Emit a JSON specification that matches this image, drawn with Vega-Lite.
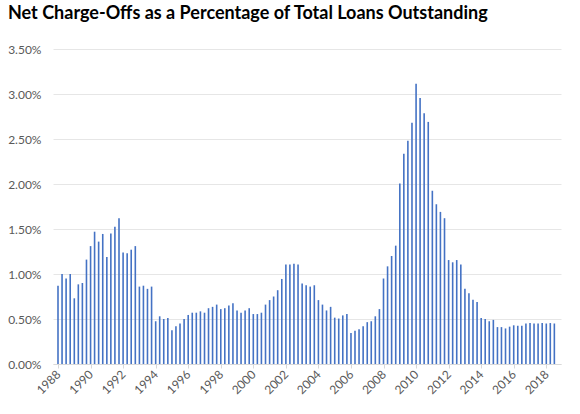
{
  "$schema": "https://vega.github.io/schema/vega-lite/v6.json",
  "width": 508,
  "height": 315,
  "autosize": {"type": "none"},
  "padding": {"left": 53, "top": 49, "right": 19, "bottom": 50},
  "background": "white",
  "config": {
    "font": "Lato",
    "view": {"stroke": null}
  },
  "title": {
    "text": "Net Charge-Offs as a Percentage of Total Loans Outstanding",
    "anchor": "start",
    "frame": "group",
    "dx": -45,
    "offset": 20,
    "fontSize": 18,
    "fontWeight": "bold",
    "color": "#000000",
    "font": "Lato"
  },
  "data": {
    "values": [
      {"q": "1988-01-01", "v": 0.87}, {"q": "1988-04-01", "v": 1.00}, {"q": "1988-07-01", "v": 0.95}, {"q": "1988-10-01", "v": 1.00},
      {"q": "1989-01-01", "v": 0.73}, {"q": "1989-04-01", "v": 0.885}, {"q": "1989-07-01", "v": 0.90}, {"q": "1989-10-01", "v": 1.16},
      {"q": "1990-01-01", "v": 1.31}, {"q": "1990-04-01", "v": 1.47}, {"q": "1990-07-01", "v": 1.36}, {"q": "1990-10-01", "v": 1.445},
      {"q": "1991-01-01", "v": 1.19}, {"q": "1991-04-01", "v": 1.45}, {"q": "1991-07-01", "v": 1.525}, {"q": "1991-10-01", "v": 1.62},
      {"q": "1992-01-01", "v": 1.24}, {"q": "1992-04-01", "v": 1.23}, {"q": "1992-07-01", "v": 1.27}, {"q": "1992-10-01", "v": 1.31},
      {"q": "1993-01-01", "v": 0.86}, {"q": "1993-04-01", "v": 0.87}, {"q": "1993-07-01", "v": 0.835}, {"q": "1993-10-01", "v": 0.86},
      {"q": "1994-01-01", "v": 0.475}, {"q": "1994-04-01", "v": 0.53}, {"q": "1994-07-01", "v": 0.50}, {"q": "1994-10-01", "v": 0.51},
      {"q": "1995-01-01", "v": 0.375}, {"q": "1995-04-01", "v": 0.42}, {"q": "1995-07-01", "v": 0.45}, {"q": "1995-10-01", "v": 0.50},
      {"q": "1996-01-01", "v": 0.545}, {"q": "1996-04-01", "v": 0.57}, {"q": "1996-07-01", "v": 0.57}, {"q": "1996-10-01", "v": 0.585},
      {"q": "1997-01-01", "v": 0.57}, {"q": "1997-04-01", "v": 0.62}, {"q": "1997-07-01", "v": 0.635}, {"q": "1997-10-01", "v": 0.66},
      {"q": "1998-01-01", "v": 0.61}, {"q": "1998-04-01", "v": 0.62}, {"q": "1998-07-01", "v": 0.65}, {"q": "1998-10-01", "v": 0.675},
      {"q": "1999-01-01", "v": 0.595}, {"q": "1999-04-01", "v": 0.57}, {"q": "1999-07-01", "v": 0.595}, {"q": "1999-10-01", "v": 0.62},
      {"q": "2000-01-01", "v": 0.555}, {"q": "2000-04-01", "v": 0.555}, {"q": "2000-07-01", "v": 0.57}, {"q": "2000-10-01", "v": 0.66},
      {"q": "2001-01-01", "v": 0.71}, {"q": "2001-04-01", "v": 0.75}, {"q": "2001-07-01", "v": 0.82}, {"q": "2001-10-01", "v": 0.945},
      {"q": "2002-01-01", "v": 1.105}, {"q": "2002-04-01", "v": 1.105}, {"q": "2002-07-01", "v": 1.115}, {"q": "2002-10-01", "v": 1.105},
      {"q": "2003-01-01", "v": 0.895}, {"q": "2003-04-01", "v": 0.875}, {"q": "2003-07-01", "v": 0.86}, {"q": "2003-10-01", "v": 0.875},
      {"q": "2004-01-01", "v": 0.71}, {"q": "2004-04-01", "v": 0.66}, {"q": "2004-07-01", "v": 0.595}, {"q": "2004-10-01", "v": 0.635},
      {"q": "2005-01-01", "v": 0.515}, {"q": "2005-04-01", "v": 0.505}, {"q": "2005-07-01", "v": 0.54}, {"q": "2005-10-01", "v": 0.555},
      {"q": "2006-01-01", "v": 0.345}, {"q": "2006-04-01", "v": 0.37}, {"q": "2006-07-01", "v": 0.385}, {"q": "2006-10-01", "v": 0.42},
      {"q": "2007-01-01", "v": 0.465}, {"q": "2007-04-01", "v": 0.475}, {"q": "2007-07-01", "v": 0.53}, {"q": "2007-10-01", "v": 0.61},
      {"q": "2008-01-01", "v": 0.95}, {"q": "2008-04-01", "v": 1.085}, {"q": "2008-07-01", "v": 1.20}, {"q": "2008-10-01", "v": 1.315},
      {"q": "2009-01-01", "v": 2.005}, {"q": "2009-04-01", "v": 2.335}, {"q": "2009-07-01", "v": 2.48}, {"q": "2009-10-01", "v": 2.68},
      {"q": "2010-01-01", "v": 3.115}, {"q": "2010-04-01", "v": 2.955}, {"q": "2010-07-01", "v": 2.785}, {"q": "2010-10-01", "v": 2.69},
      {"q": "2011-01-01", "v": 1.925}, {"q": "2011-04-01", "v": 1.775}, {"q": "2011-07-01", "v": 1.69}, {"q": "2011-10-01", "v": 1.62},
      {"q": "2012-01-01", "v": 1.155}, {"q": "2012-04-01", "v": 1.13}, {"q": "2012-07-01", "v": 1.155}, {"q": "2012-10-01", "v": 1.105},
      {"q": "2013-01-01", "v": 0.835}, {"q": "2013-04-01", "v": 0.785}, {"q": "2013-07-01", "v": 0.715}, {"q": "2013-10-01", "v": 0.69},
      {"q": "2014-01-01", "v": 0.51}, {"q": "2014-04-01", "v": 0.50}, {"q": "2014-07-01", "v": 0.475}, {"q": "2014-10-01", "v": 0.49},
      {"q": "2015-01-01", "v": 0.41}, {"q": "2015-04-01", "v": 0.41}, {"q": "2015-07-01", "v": 0.395}, {"q": "2015-10-01", "v": 0.415},
      {"q": "2016-01-01", "v": 0.43}, {"q": "2016-04-01", "v": 0.425}, {"q": "2016-07-01", "v": 0.425}, {"q": "2016-10-01", "v": 0.45},
      {"q": "2017-01-01", "v": 0.455}, {"q": "2017-04-01", "v": 0.45}, {"q": "2017-07-01", "v": 0.45}, {"q": "2017-10-01", "v": 0.455},
      {"q": "2018-01-01", "v": 0.45}, {"q": "2018-04-01", "v": 0.455}, {"q": "2018-07-01", "v": 0.45}
    ]
  },
  "mark": {"type": "bar", "width": 1.6, "color": "#4472C4"},
  "encoding": {
    "x": {
      "field": "q",
      "type": "temporal",
      "scale": {
        "type": "utc",
        "domain": [
          {"year": 1988, "month": 1, "date": 1, "utc": true},
          {"year": 2018, "month": 8, "date": 7, "utc": true}
        ]
      },
      "axis": {
        "title": null,
        "grid": false,
        "format": "%Y",
        "values": [
          {"year": 1988, "utc": true}, {"year": 1990, "utc": true}, {"year": 1992, "utc": true}, {"year": 1994, "utc": true},
          {"year": 1996, "utc": true}, {"year": 1998, "utc": true}, {"year": 2000, "utc": true}, {"year": 2002, "utc": true},
          {"year": 2004, "utc": true}, {"year": 2006, "utc": true}, {"year": 2008, "utc": true}, {"year": 2010, "utc": true},
          {"year": 2012, "utc": true}, {"year": 2014, "utc": true}, {"year": 2016, "utc": true}, {"year": 2018, "utc": true}
        ],
        "labelAngle": -45,
        "labelAlign": "right",
        "labelBaseline": "middle",
        "labelFontSize": 12,
        "labelColor": "#595959",
        "labelPadding": 4,
        "labelFlush": false,
        "labelOverlap": false,
        "domainColor": "#d9d9d9",
        "tickColor": "#d9d9d9",
        "tickSize": 4
      }
    },
    "y": {
      "field": "v",
      "type": "quantitative",
      "scale": {"domain": [0, 3.5], "nice": false},
      "axis": {
        "title": null,
        "values": [0, 0.5, 1, 1.5, 2, 2.5, 3, 3.5],
        "labelExpr": "format(datum.value, '.2f') + '%'",
        "labelFontSize": 12,
        "labelColor": "#595959",
        "labelPadding": 12,
        "domain": false,
        "ticks": false,
        "gridColor": "#e6e6e6",
        "gridWidth": 1
      }
    }
  }
}
